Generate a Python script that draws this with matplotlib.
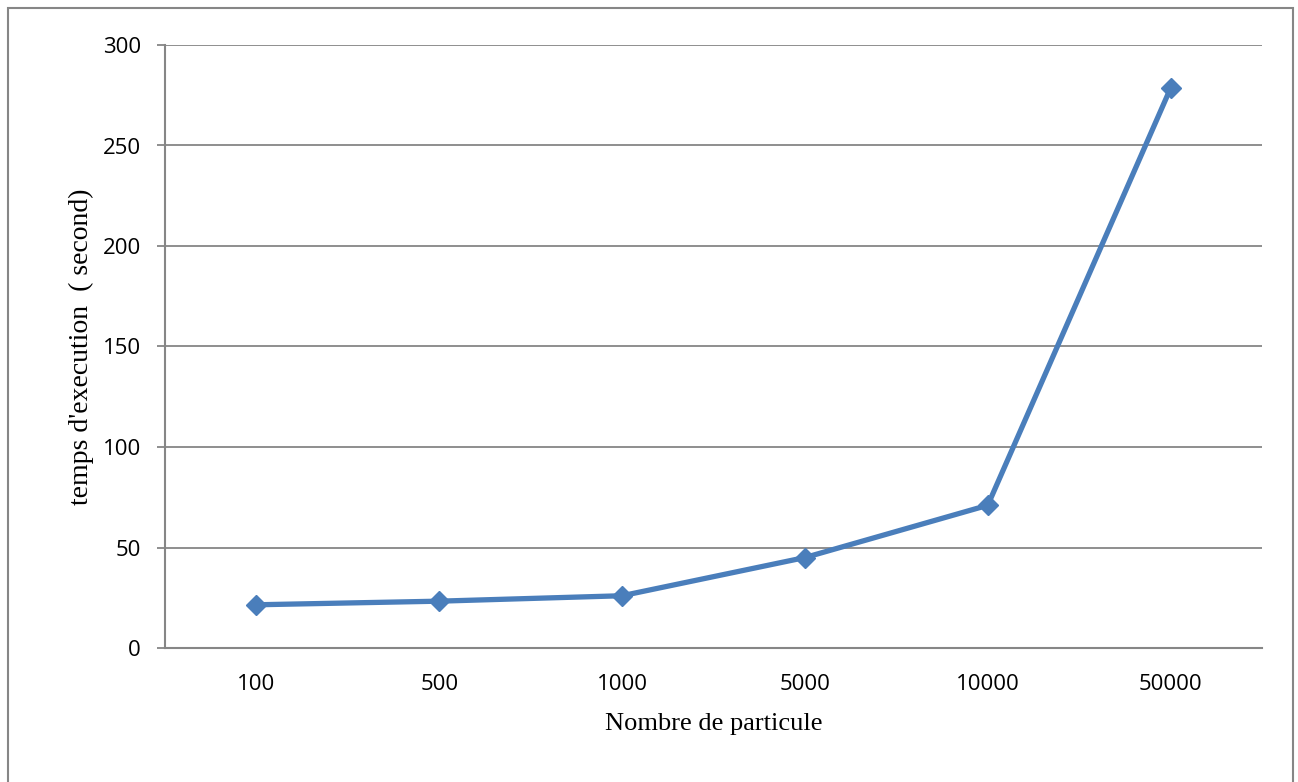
import matplotlib
matplotlib.use("Agg")
import matplotlib.pyplot as plt
from matplotlib.patches import Rectangle

# temps d'execution selon le nombre de particules
particules = ["100", "500", "1000", "5000", "10000", "50000"]
temps = [21.5, 23.3, 26.0, 45.0, 71.0, 278.5]
yticks = [0, 50, 100, 150, 200, 250, 300]

W, H = 1298, 782
fig = plt.figure(figsize=(W / 100, H / 100), dpi=100)
ax = fig.add_axes([165 / W, (H - 648) / H, (1262 - 165) / W, (648 - 45) / H])

grey = "#868686"
blue = "#4A7EBB"

x = range(len(particules))
ax.plot(x, temps, color=blue, lw=3.8, marker="D", ms=10, mec=blue, mfc=blue,
        solid_joinstyle="miter", zorder=3)

ax.set_xlim(-0.5, len(particules) - 0.5)
ax.set_ylim(0, 300)
ax.set_yticks(yticks)
ax.set_xticks(list(x))
ax.set_xticklabels(particules)

ax.grid(axis="y", color=grey, lw=1.3)
ax.set_axisbelow(True)
for s in ["top", "right"]:
    ax.spines[s].set_visible(False)
for s in ["left", "bottom"]:
    ax.spines[s].set_color(grey)
    ax.spines[s].set_linewidth(1.5)

tickfont = "Open Sans"
ax.tick_params(axis="y", direction="out", length=5.5, width=1.3, color=grey,
               pad=12, labelsize=16)
ax.tick_params(axis="x", length=0, pad=19, labelsize=16)
for lab in ax.get_xticklabels() + ax.get_yticklabels():
    lab.set_fontfamily(tickfont)

ax.set_xlabel("Nombre de particule", family="Liberation Serif", fontsize=19,
              labelpad=13)
ax.set_ylabel("temps d'execution  ( second)", family="Liberation Serif",
              fontsize=20, labelpad=6)

# cadre autour du graphique
fig.patches.append(Rectangle((8 / W, -0.01), (1293 - 8) / W, (H - 8) / H + 0.01,
                             transform=fig.transFigure, fill=False,
                             edgecolor=grey, lw=1.5))

fig.savefig("out.png", dpi=100)
